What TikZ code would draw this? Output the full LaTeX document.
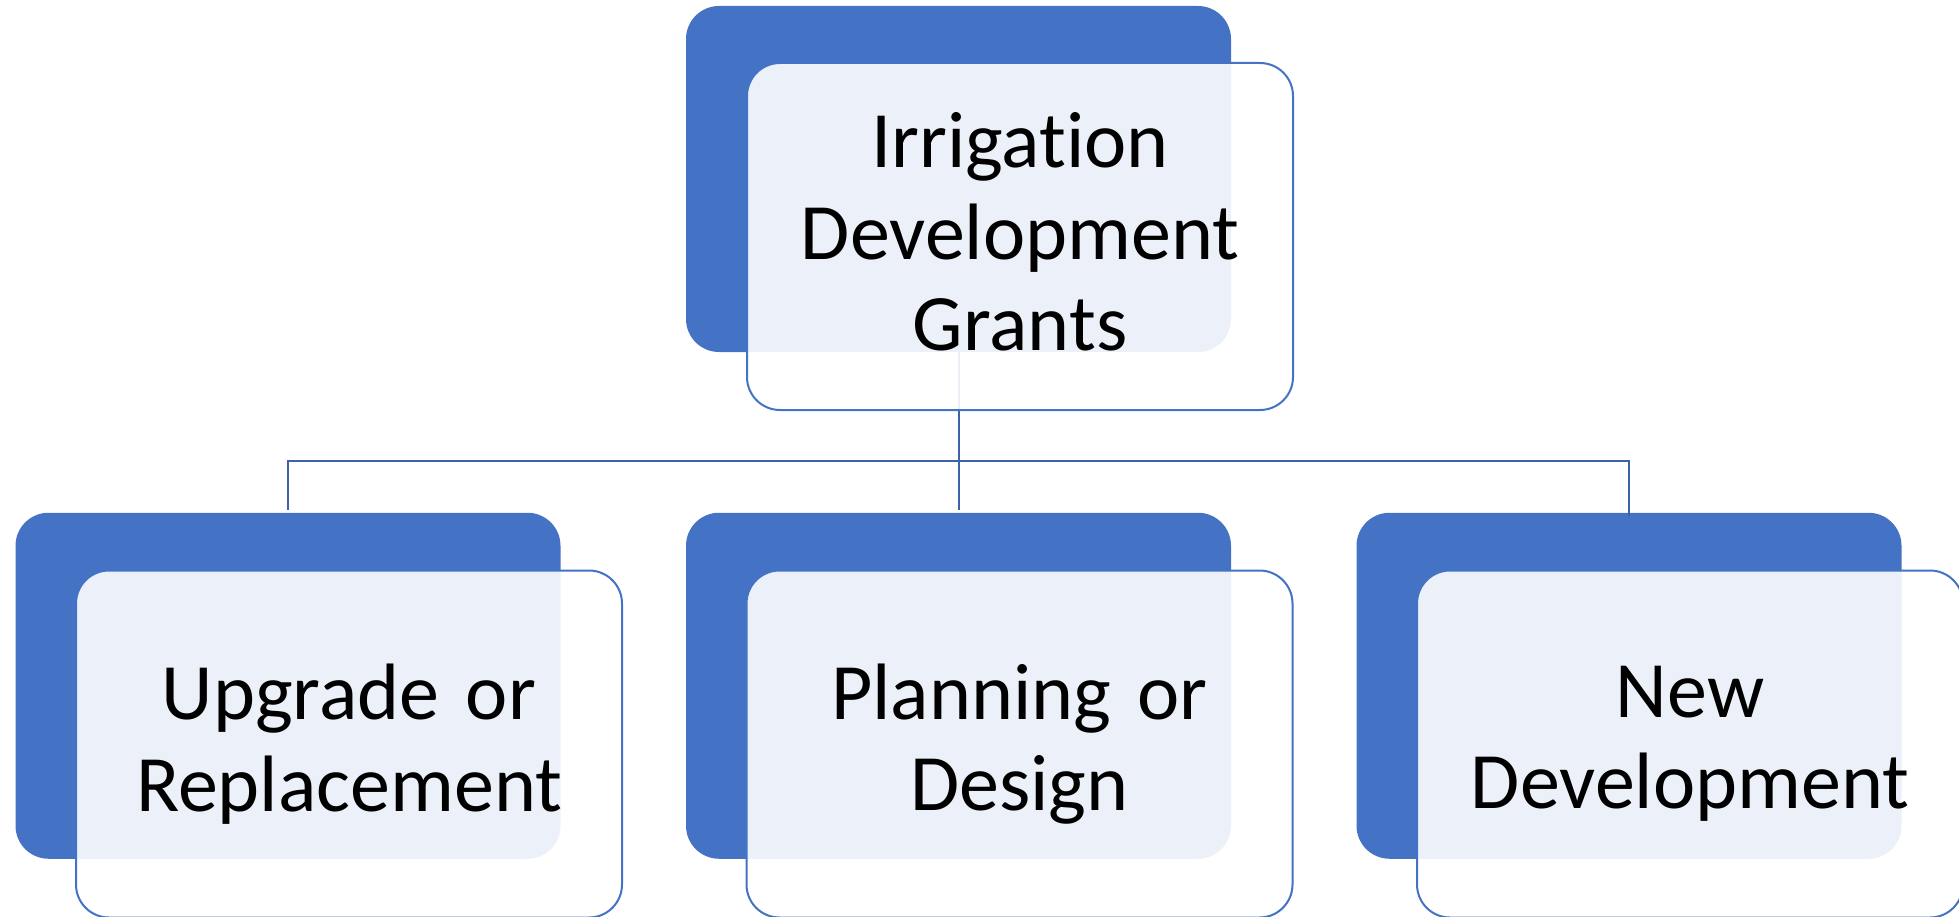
\documentclass[tikz,border=0pt]{standalone}
\usepackage{fontspec}
\setmainfont{Carlito}[Ligatures=NoCommon]
\definecolor{accent}{HTML}{4472C4}
\definecolor{conn}{HTML}{3C62AC}
\begin{document}
\begin{tikzpicture}[x=1pt,y=-1pt,
  backbox/.style={draw=none, fill=accent, rounded corners=33pt,
    minimum width=545pt, minimum height=346pt, inner sep=0pt},
  frontbox/.style={draw=accent, line width=2pt, fill=white, fill opacity=0.9,
    text opacity=1, rounded corners=33pt, minimum width=546pt, minimum height=347pt,
    inner sep=0pt, align=center, text width=540pt,
    font=\fontsize{80}{91.5}\selectfont},
  connector/.style={draw=conn, line width=2pt}]
\useasboundingbox (0,0) rectangle (1959,917);
% back blue boxes
\node[backbox] (tb) at (958.5,179) {};
\node[backbox] (b1) at (288,685.75) {};
\node[backbox] (b2) at (958.5,685.75) {};
\node[backbox] (b3) at (1629,685.75) {};
% connectors
\coordinate (bus) at (958.5,461);
\draw[connector] (tb.south) -- (bus);
\draw[connector, shorten <=3pt] (b1.north) |- (bus) -| ([yshift=-3pt]b3.north);
\draw[connector, shorten >=3pt] (bus) -- (b2.north);
% front boxes
\node[frontbox, text depth=193pt] (tf) at (1020,236.5) {Irrigat\kern0pt ion\\Development\\Grants};
\node[frontbox] (f1) at (349,744) {Upgrade or\\Replacement};
\node[frontbox] (f2) at (1019.5,744) {Planning or\\Design};
\node[frontbox] (f3) at (1690,744) {New\\Development};
\end{tikzpicture}
\end{document}
